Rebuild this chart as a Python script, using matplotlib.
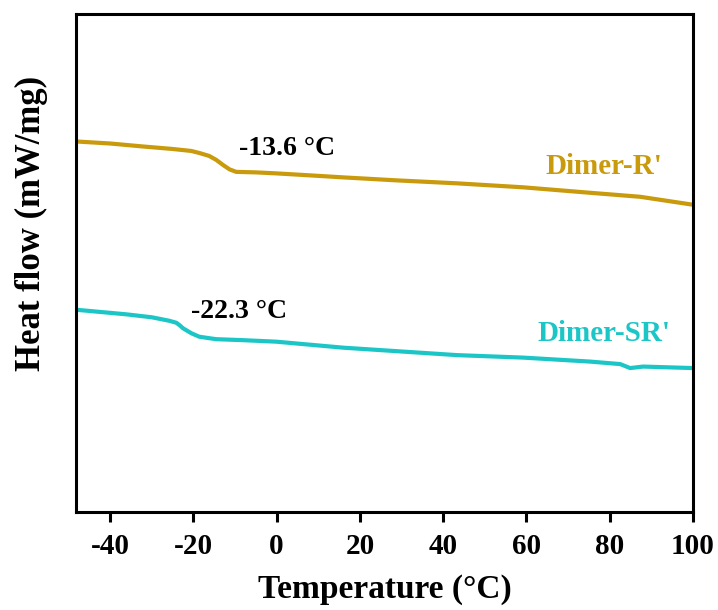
import matplotlib
matplotlib.use("Agg")
import matplotlib.pyplot as plt

# =====================================================
# DATA DSC (heat flow, satuan relatif)
# =====================================================

temp_r = [-48.0, -40.0, -32.1, -25.0, -20.5, -18.6, -16.2, -14.5, -12.9,
          -11.3, -9.7, -5.0, -0.1, 8.0, 15.9, 28.7, 43.3,
          59.2, 75.3, 87.3, 100.0]
flow_r = [74.4, 74.0, 73.4, 72.9, 72.5, 72.1, 71.5, 70.7, 69.7,
          68.8, 68.3, 68.2, 68.0, 67.6, 67.2, 66.6, 66.0,
          65.2, 64.1, 63.3, 61.7]

temp_sr = [-48.0, -36.2, -30.0, -25.8, -24.1, -23.3, -22.5, -20.5, -18.6,
           -16.2, -14.5, -8.0, -0.1, 15.9, 28.7, 43.3, 59.2, 75.3, 82.5,
           84.9, 88.0, 100.0]
flow_sr = [40.6, 39.7, 39.1, 38.4, 38.0, 37.5, 36.9, 35.9, 35.2,
           34.9, 34.7, 34.5, 34.2, 33.0, 32.3, 31.5, 31.0, 30.2, 29.7,
           28.9, 29.2, 28.9]

tg_labels = ["-13.6 \u00b0C", "-22.3 \u00b0C"]
series_names = ["Dimer-R'", "Dimer-SR'"]

warna_r = "#C99A0C"
warna_sr = "#1DC6C6"

plt.rcParams["font.family"] = ["Liberation Serif", "DejaVu Serif"]
plt.rcParams["font.weight"] = "bold"
plt.rcParams["axes.unicode_minus"] = False

# =====================================================
# GRAFIK
# =====================================================

fig = plt.figure(figsize=(7.18, 6.10), dpi=100)
ax = fig.add_axes([0.1058, 0.1607, 0.8594, 0.8163])

ax.plot(temp_r, flow_r, color=warna_r, linewidth=3)
ax.plot(temp_sr, flow_sr, color=warna_sr, linewidth=3)

ax.text(-9.0, 72.9, tg_labels[0], fontsize=20, fontweight="bold",
        ha="left", va="center", color="black")
ax.text(-20.5, 40.2, tg_labels[1], fontsize=20, fontweight="bold",
        ha="left", va="center", color="black")

ax.text(92.6, 69.3, series_names[0], fontsize=21, fontweight="bold",
        ha="right", va="center", color=warna_r)
ax.text(94.5, 35.9, series_names[1], fontsize=21, fontweight="bold",
        ha="right", va="center", color=warna_sr)

ax.set_xlim(-48.2, 100)
ax.set_ylim(0, 100)
ax.set_xticks([-40, -20, 0, 20, 40, 60, 80, 100])
ax.set_yticks([])

ax.tick_params(axis="x", direction="out", length=7, width=2.2,
               labelsize=21, pad=8)
for lbl in ax.get_xticklabels():
    lbl.set_fontweight("bold")
for sp in ax.spines.values():
    sp.set_linewidth(2.2)

ax.set_xlabel("Temperature (\u00b0C)", fontsize=24, fontweight="bold",
              labelpad=10)
ax.set_ylabel("Heat flow (mW/mg)", fontsize=25, fontweight="bold")
ax.yaxis.set_label_coords(-0.045, 0.58)

fig.savefig("out.png", dpi=100)
